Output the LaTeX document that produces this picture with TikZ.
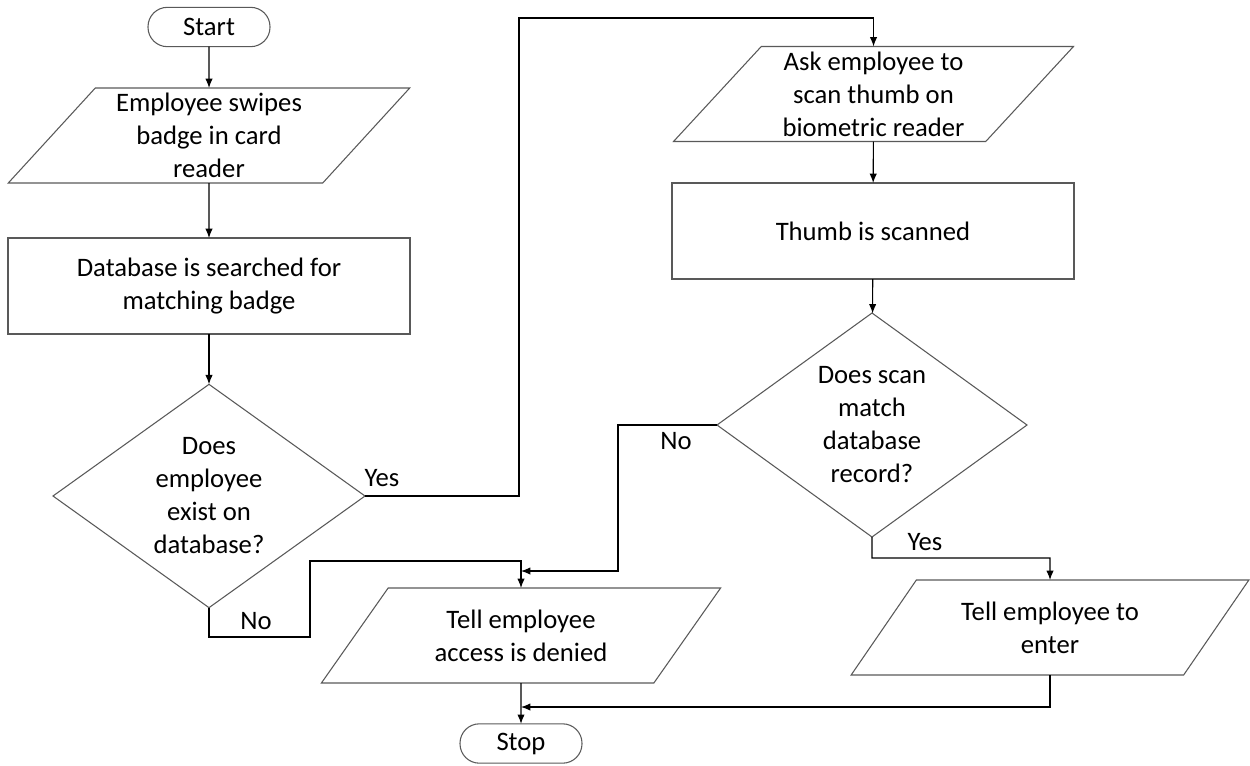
\documentclass[tikz,border=0pt]{standalone}
\usepackage{fontspec}
\setmainfont{Carlito}
\usetikzlibrary{shapes.geometric,arrows.meta}
\begin{document}
\begin{tikzpicture}[x=0.75pt,y=-0.75pt,
  every node/.style={inner sep=0pt,outer sep=0pt,align=center,font=\fontsize{20}{24.75}\selectfont},
  shapebox/.style={draw=black!65,line width=0.8pt},
  term/.style={shapebox,rectangle,rounded corners=14.5pt,minimum width=91.5pt,minimum height=29.5pt},
  iobox/.style={shapebox,trapezium,trapezium left angle=50,trapezium right angle=130,trapezium stretches=true,minimum height=71.25pt},
  procbox/.style={shapebox,rectangle,minimum width=301.5pt,minimum height=72pt},
  decbox/.style={shapebox,diamond,shape aspect=1.4,minimum width=234pt,minimum height=167.5pt},
  arr/.style={draw=black,line width=0.8pt,-{Latex[length=7pt,width=5.5pt]}},
  conn/.style={draw=black,line width=0.8pt},
  lbl/.style={font=\fontsize{20}{24}\selectfont}]
\useasboundingbox (0,0) rectangle (1250,765);

\node[term] (start) at (209,27) {Start};
\node[iobox,minimum width=301.5pt] (p1) at (209,135.5) {Employee swipes\\badge in card\\reader};
\node[procbox] (r1) at (209,286) {Database is searched for\\matching badge};
\node[decbox] (d1) at (209,496) {Does\\employee\\exist on\\database?};

\node[iobox,minimum width=300.75pt] (p2) at (873.5,94) {Ask employee to\\scan thumb on\\biometric reader};
\node[procbox] (r2) at (873,231) {Thumb is scanned};
\node[decbox,minimum width=232.5pt,minimum height=168pt] (d2) at (872,425) {Does scan\\match\\database\\record?};

\node[iobox,minimum width=300pt] (p3) at (521,635.5) {Tell employee\\access is denied};
\node[iobox,minimum width=298.5pt] (p4) at (1050,627.5) {Tell employee to\\enter};
\node[term] (stop) at (521,743.5) {Stop};

\coordinate (c1) at (519,18);
\coordinate (c2) at (618,571);
\coordinate (j1) at (521,571);
\coordinate (c3) at (310,637);
\coordinate (c4) at (310,561);
\coordinate (c5) at (1050,558);
\coordinate (j2) at (521,707);

\draw[arr] (start) -- (p1);
\draw[arr] (p1) -- (r1);
\draw[arr] (r1) -- (d1);
\draw[arr] (d1.east) -| (c1) -| (p2.north);
\draw[arr] (p2) -- (r2);
\draw[arr] (r2) -- (d2);
\draw[arr] (d2.west) -| (c2) -- (j1);
\draw[arr] (d1.south) |- (c3) -- (c4) -| (p3.north);
\draw[arr] (d2.south) |- (c5) -- (p4.north);
\draw[arr] (p3) -- (stop);
\draw[arr] (p4.south) |- (j2);

\node[lbl] (yes1) at (382,478) {Yes};
\node[lbl] (no1) at (256,621) {No};
\node[lbl] (no2) at (676,441) {No};
\node[lbl] (yes2) at (925,542) {Yes};
\end{tikzpicture}
\end{document}
